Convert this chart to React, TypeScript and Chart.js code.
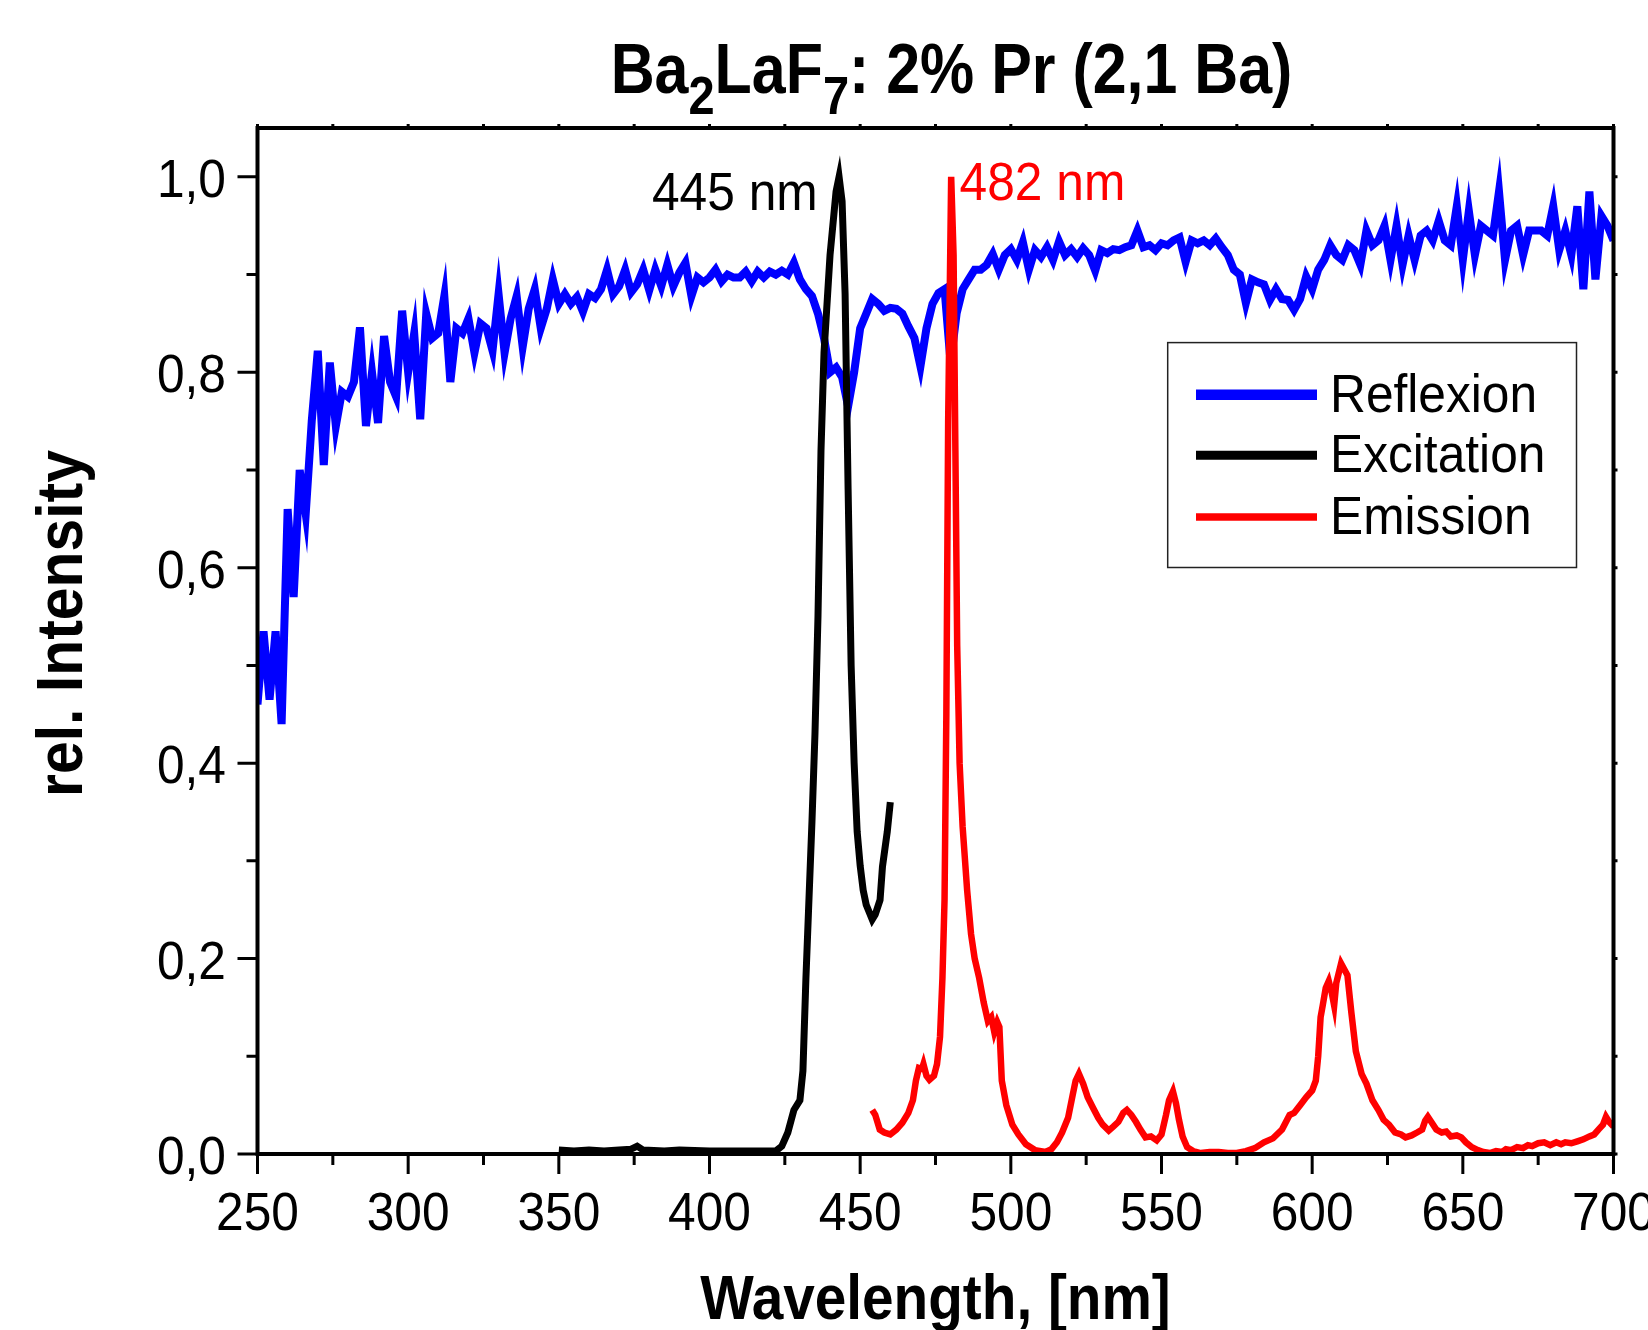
import React, { useEffect, useRef } from 'react';
import { Chart, registerables } from 'chart.js';

Chart.register(...registerables);

// ---------- data ----------
const reflexionStartNm = 250;
const reflexionStepNm = 2;
const reflexionValues = [
  0.46, 0.535, 0.465, 0.535, 0.44, 0.66, 0.57, 0.70, 0.655, 0.75,
  0.822, 0.705, 0.81, 0.745, 0.78, 0.775, 0.79, 0.846, 0.745, 0.80,
  0.748, 0.837, 0.79, 0.775, 0.863, 0.80, 0.84, 0.752, 0.86, 0.835,
  0.84, 0.878, 0.79, 0.845, 0.84, 0.855, 0.82, 0.85, 0.845, 0.822,
  0.88, 0.82, 0.855, 0.878, 0.826, 0.865, 0.885, 0.845, 0.865, 0.895,
  0.87, 0.88, 0.87, 0.877, 0.862, 0.88, 0.876, 0.885, 0.905, 0.88,
  0.888, 0.905, 0.882, 0.89, 0.905, 0.884, 0.905, 0.888, 0.91, 0.888,
  0.902, 0.912, 0.878, 0.897, 0.892, 0.897, 0.905, 0.893, 0.90, 0.897,
  0.897, 0.903, 0.893, 0.903, 0.897, 0.903, 0.90, 0.904, 0.90, 0.912,
  0.895, 0.885, 0.878, 0.86, 0.835, 0.80, 0.805, 0.795, 0.765, 0.80,
  0.845, 0.86, 0.875, 0.87, 0.863, 0.866, 0.865, 0.86, 0.847, 0.835,
  0.806, 0.845, 0.87, 0.881, 0.885, 0.81, 0.86, 0.885, 0.895, 0.905,
  0.905, 0.91, 0.921, 0.905, 0.92, 0.926, 0.915, 0.933, 0.905, 0.925,
  0.918, 0.928, 0.915, 0.934, 0.92, 0.926, 0.918, 0.927, 0.92, 0.904,
  0.925, 0.922, 0.926, 0.925, 0.928, 0.93, 0.945, 0.928, 0.93, 0.925,
  0.932, 0.93, 0.935, 0.938, 0.913, 0.935, 0.932, 0.935, 0.93, 0.937,
  0.928, 0.92, 0.905, 0.90, 0.871, 0.895, 0.892, 0.89, 0.874, 0.885,
  0.875, 0.874, 0.864, 0.875, 0.898, 0.885, 0.905, 0.915, 0.93, 0.92,
  0.915, 0.93, 0.925, 0.91, 0.945, 0.93, 0.935, 0.95, 0.915, 0.95,
  0.91, 0.94, 0.915, 0.94, 0.945, 0.935, 0.955, 0.935, 0.93, 0.97,
  0.915, 0.965, 0.92, 0.95, 0.945, 0.94, 0.985, 0.915, 0.945, 0.95,
  0.92, 0.945, 0.945, 0.945, 0.94, 0.97, 0.925, 0.945, 0.92, 0.97,
  0.885, 0.985, 0.895, 0.96, 0.95, 0.935,
];

const excitationNm = [
  350, 355, 360, 365, 370, 374, 376, 378, 385, 390, 400, 410, 418, 422, 424,
  426, 428, 430, 431, 432, 433, 434, 435, 436, 437, 438, 440, 442, 443, 444,
  445, 446, 447, 448, 449, 450, 451, 452, 454, 455, 456.6, 457.4, 459, 460,
];
const excitationValues = [
  0.004, 0.003, 0.004, 0.003, 0.004, 0.005, 0.008, 0.004, 0.003, 0.004, 0.003, 0.003, 0.003, 0.003, 0.008,
  0.022, 0.045, 0.055, 0.085, 0.18, 0.26, 0.34, 0.43, 0.55, 0.72, 0.82, 0.92, 0.985, 1.0, 0.975,
  0.88, 0.68, 0.5, 0.4, 0.33, 0.295, 0.27, 0.255, 0.24, 0.245, 0.26, 0.294, 0.33, 0.36,
];

const emissionNm = [
  454, 455, 456.5, 458, 460, 462, 464, 466, 467.5, 468.5, 469.5, 470.5, 471, 472, 473,
  474.5, 475.5, 476.5, 477.3, 478, 478.6, 479.2, 480.2, 481, 481.6, 482.2, 483, 484, 485.5, 486.8,
  488, 489.5, 491, 492.4, 493.5, 494.5, 495.5, 496.2, 497, 498.5, 500.5, 502.5, 505, 508, 511.5,
  513.5, 515.3, 517, 519, 520.5, 521.5, 522.6, 524, 525.5, 527.3, 529, 530.5, 532.5, 534, 535.7,
  537.3, 538.5, 540, 541.5, 543, 544.7, 546.5, 548.4, 550, 551.5, 552.5, 553.8, 554.8, 555.8, 557,
  558.5, 560.5, 563, 566, 569, 572, 575, 578, 581, 584, 587, 590, 592.5, 594, 596,
  598, 600, 601.2, 602, 602.8, 603.5, 604.5, 605.5, 606.5, 607.3, 608, 609.6, 611.7, 613, 614.5,
  616.4, 618, 620, 622, 623.7, 625.5, 627.5, 629.5, 631, 633, 634.8, 636.5, 637.5, 638.4, 639.5,
  641.2, 643, 644.5, 646, 648, 649.5, 651, 653, 655, 656.8, 659, 661, 663, 664.3, 666,
  668, 670, 671.6, 673, 675, 677, 679, 681, 682.6, 684, 686, 688, 690, 692, 693.6,
  695, 696.5, 697.5, 698.5, 700,
];
const emissionValues = [
  0.045, 0.04, 0.025, 0.022, 0.02, 0.025, 0.032, 0.042, 0.055, 0.075, 0.088, 0.087, 0.092, 0.08, 0.076,
  0.08, 0.092, 0.12, 0.18, 0.26, 0.45, 0.75, 1.0, 0.92, 0.72, 0.52, 0.40, 0.335, 0.27, 0.225,
  0.20, 0.18, 0.155, 0.136, 0.14, 0.125, 0.135, 0.13, 0.075, 0.05, 0.03, 0.02, 0.01, 0.004, 0.002,
  0.005, 0.012, 0.022, 0.037, 0.06, 0.075, 0.082, 0.072, 0.058, 0.047, 0.037, 0.03, 0.024, 0.028, 0.033,
  0.042, 0.045, 0.04, 0.033, 0.025, 0.017, 0.018, 0.014, 0.02, 0.04, 0.055, 0.064, 0.052, 0.035, 0.018,
  0.007, 0.003, 0.001, 0.002, 0.002, 0.001, 0.001, 0.003, 0.006, 0.012, 0.016, 0.025, 0.04, 0.042, 0.05,
  0.058, 0.065, 0.075, 0.1, 0.14, 0.152, 0.17, 0.177, 0.165, 0.152, 0.175, 0.195, 0.183, 0.145, 0.105,
  0.082, 0.072, 0.055, 0.045, 0.035, 0.03, 0.022, 0.02, 0.017, 0.019, 0.022, 0.025, 0.034, 0.038, 0.033,
  0.025, 0.022, 0.023, 0.018, 0.019, 0.017, 0.012, 0.007, 0.004, 0.002, 0.001, 0.003, 0.002, 0.005, 0.004,
  0.007, 0.006, 0.009, 0.008, 0.011, 0.012, 0.009, 0.012, 0.01, 0.012, 0.011, 0.013, 0.015, 0.018, 0.02,
  0.025, 0.03, 0.038, 0.033, 0.028,
];

const xTickValues = [250, 300, 350, 400, 450, 500, 550, 600, 650, 700];
const xTickLabels = ['250', '300', '350', '400', '450', '500', '550', '600', '650', '700'];
const xMinorValues = [275, 325, 375, 425, 475, 525, 575, 625, 675];
const yTickValues = [0, 0.2, 0.4, 0.6, 0.8, 1.0];
const yTickLabels = ['0,0', '0,2', '0,4', '0,6', '0,8', '1,0'];
const yMinorValues = [0.1, 0.3, 0.5, 0.7, 0.9];

const seriesNames = ['Reflexion', 'Excitation', 'Emission'];
const seriesColors = ['#0000ff', '#000000', '#ff0000'];
const peakLabels = ['445 nm', '482 nm'];
const titleText = ['Ba', '2', 'LaF', '7', ': 2% Pr (2,1 Ba)'];
const xAxisTitle = 'Wavelength, [nm]';
const yAxisTitle = 'rel. Intensity';

// ---------- layout ----------
const W = 1648;
const H = 1330;
const FONT = '"Liberation Sans", Arial, sans-serif';

function drawText(ctx: CanvasRenderingContext2D, text: string, x: number, y: number, font: string, color: string, align: 'left' | 'right' | 'center', sx: number) {
  ctx.save();
  ctx.font = font;
  ctx.fillStyle = color;
  ctx.textAlign = 'left';
  ctx.textBaseline = 'alphabetic';
  const w = ctx.measureText(text).width * sx;
  const x0 = align === 'center' ? x - w / 2 : align === 'right' ? x - w : x;
  ctx.translate(x0, y);
  ctx.scale(sx, 1);
  ctx.fillText(text, 0, 0);
  ctx.restore();
}

const decorPlugin = {
  id: 'decor',
  afterDatasetsDraw(chart: any) {
    const ctx: CanvasRenderingContext2D = chart.ctx;
    const a = chart.chartArea;
    const xs = chart.scales.x;
    const ys = chart.scales.y;
    ctx.save();

    // frame
    ctx.strokeStyle = '#000';
    ctx.lineWidth = 4;
    ctx.strokeRect(a.left, a.top, a.right - a.left, a.bottom - a.top);

    // ticks
    ctx.lineWidth = 3;
    ctx.beginPath();
    xTickValues.forEach((v) => {
      const x = xs.getPixelForValue(v);
      ctx.moveTo(x, a.bottom); ctx.lineTo(x, a.bottom + 20);
      ctx.moveTo(x, a.top); ctx.lineTo(x, a.top - 4);
    });
    xMinorValues.forEach((v) => {
      const x = xs.getPixelForValue(v);
      ctx.moveTo(x, a.bottom); ctx.lineTo(x, a.bottom + 11);
      ctx.moveTo(x, a.top); ctx.lineTo(x, a.top - 4);
    });
    yTickValues.forEach((v) => {
      const y = ys.getPixelForValue(v);
      ctx.moveTo(a.left, y); ctx.lineTo(a.left - 20, y);
      ctx.moveTo(a.right, y); ctx.lineTo(a.right + 4, y);
    });
    yMinorValues.forEach((v) => {
      const y = ys.getPixelForValue(v);
      ctx.moveTo(a.left, y); ctx.lineTo(a.left - 11, y);
      ctx.moveTo(a.right, y); ctx.lineTo(a.right + 4, y);
    });
    ctx.stroke();

    // tick labels
    const tickFont = `54px ${FONT}`;
    xTickValues.forEach((v, i) => {
      drawText(ctx, xTickLabels[i], xs.getPixelForValue(v), 1230, tickFont, '#000', 'center', 0.92);
    });
    yTickValues.forEach((v, i) => {
      drawText(ctx, yTickLabels[i], 226, ys.getPixelForValue(v) + 20, tickFont, '#000', 'right', 0.92);
    });

    // axis titles
    drawText(ctx, xAxisTitle, 935.5, 1319, `bold 63px ${FONT}`, '#000', 'center', 0.9);
    ctx.save();
    ctx.translate(82, 623.5);
    ctx.rotate(-Math.PI / 2);
    drawText(ctx, yAxisTitle, 0, 0, `bold 64px ${FONT}`, '#000', 'center', 0.92);
    ctx.restore();

    // chart title with subscripts
    const sx = 0.87;
    const mainFont = `bold 70px ${FONT}`;
    const subFont = `bold 54px ${FONT}`;
    ctx.save();
    const widths = titleText.map((t, i) => {
      ctx.font = i % 2 === 1 ? subFont : mainFont;
      return ctx.measureText(t).width * sx;
    });
    ctx.restore();
    const total = widths.reduce((s, w) => s + w, 0);
    let tx = 951.5 - total / 2;
    titleText.forEach((t, i) => {
      const sub = i % 2 === 1;
      drawText(ctx, t, tx, sub ? 113.5 : 92.5, sub ? subFont : mainFont, '#000', 'left', sx);
      tx += widths[i];
    });

    // peak annotations
    drawText(ctx, peakLabels[0], 817.7, 210, `54px ${FONT}`, '#000', 'right', 0.92);
    drawText(ctx, peakLabels[1], 959.6, 199.7, `54px ${FONT}`, '#ff0000', 'left', 0.92);

    // legend
    ctx.lineWidth = 1.5;
    ctx.strokeStyle = '#222';
    ctx.strokeRect(1167.7, 342.6, 408.8, 224.9);
    const legendY = [394.7, 455.3, 517];
    const legendBase = [411.7, 472.3, 534];
    const legendW = [10.5, 9, 7.5];
    seriesNames.forEach((name, i) => {
      ctx.beginPath();
      ctx.strokeStyle = seriesColors[i];
      ctx.lineWidth = legendW[i];
      ctx.moveTo(1196, legendY[i]);
      ctx.lineTo(1317, legendY[i]);
      ctx.stroke();
      drawText(ctx, name, 1330, legendBase[i], `54px ${FONT}`, '#000', 'left', 0.92);
    });

    ctx.restore();
  },
};

export default function App() {
  const ref = useRef<HTMLCanvasElement | null>(null);

  useEffect(() => {
    if (!ref.current) return;
    const reflexionData = reflexionValues.map((v, i) => ({ x: reflexionStartNm + i * reflexionStepNm, y: v }));
    const excitationData = excitationNm.map((x, i) => ({ x, y: excitationValues[i] }));
    const emissionData = emissionNm.map((x, i) => ({ x, y: emissionValues[i] }));

    const chart = new Chart(ref.current, {
      type: 'line',
      data: {
        datasets: [
          { label: seriesNames[0], data: reflexionData, borderColor: seriesColors[0], borderWidth: 8, pointRadius: 0, fill: false, tension: 0, order: 2 },
          { label: seriesNames[1], data: excitationData, borderColor: seriesColors[1], borderWidth: 7, pointRadius: 0, fill: false, tension: 0, order: 1 },
          { label: seriesNames[2], data: emissionData, borderColor: seriesColors[2], borderWidth: 6.5, pointRadius: 0, fill: false, tension: 0, order: 0 },
        ],
      },
      options: {
        animation: false,
        responsive: false,
        maintainAspectRatio: false,
        layout: { padding: { top: 128, right: 34.5, left: 0, bottom: 0 } },
        plugins: {
          legend: { display: false },
          tooltip: { enabled: false },
          title: { display: false },
        },
        scales: {
          x: {
            type: 'linear',
            min: 250,
            max: 700,
            grid: { display: false },
            border: { display: false },
            ticks: { display: false, stepSize: 50 },
            afterFit: (s: any) => { s.height = 176; s.paddingLeft = 0; s.paddingRight = 0; },
          },
          y: {
            type: 'linear',
            min: 0,
            max: 1.05,
            grid: { display: false },
            border: { display: false },
            ticks: { display: false, stepSize: 0.2, includeBounds: false },
            afterFit: (s: any) => { s.width = 257.5; s.paddingTop = 0; s.paddingBottom = 0; },
          },
        },
      } as any,
      plugins: [decorPlugin],
    });
    return () => chart.destroy();
  }, []);

  return (
    <div style={{ position: 'absolute', left: 0, top: 0, width: W, height: H, background: '#fff' }}>
      <canvas ref={ref} width={W} height={H} style={{ display: 'block', width: W, height: H }} />
    </div>
  );
}
